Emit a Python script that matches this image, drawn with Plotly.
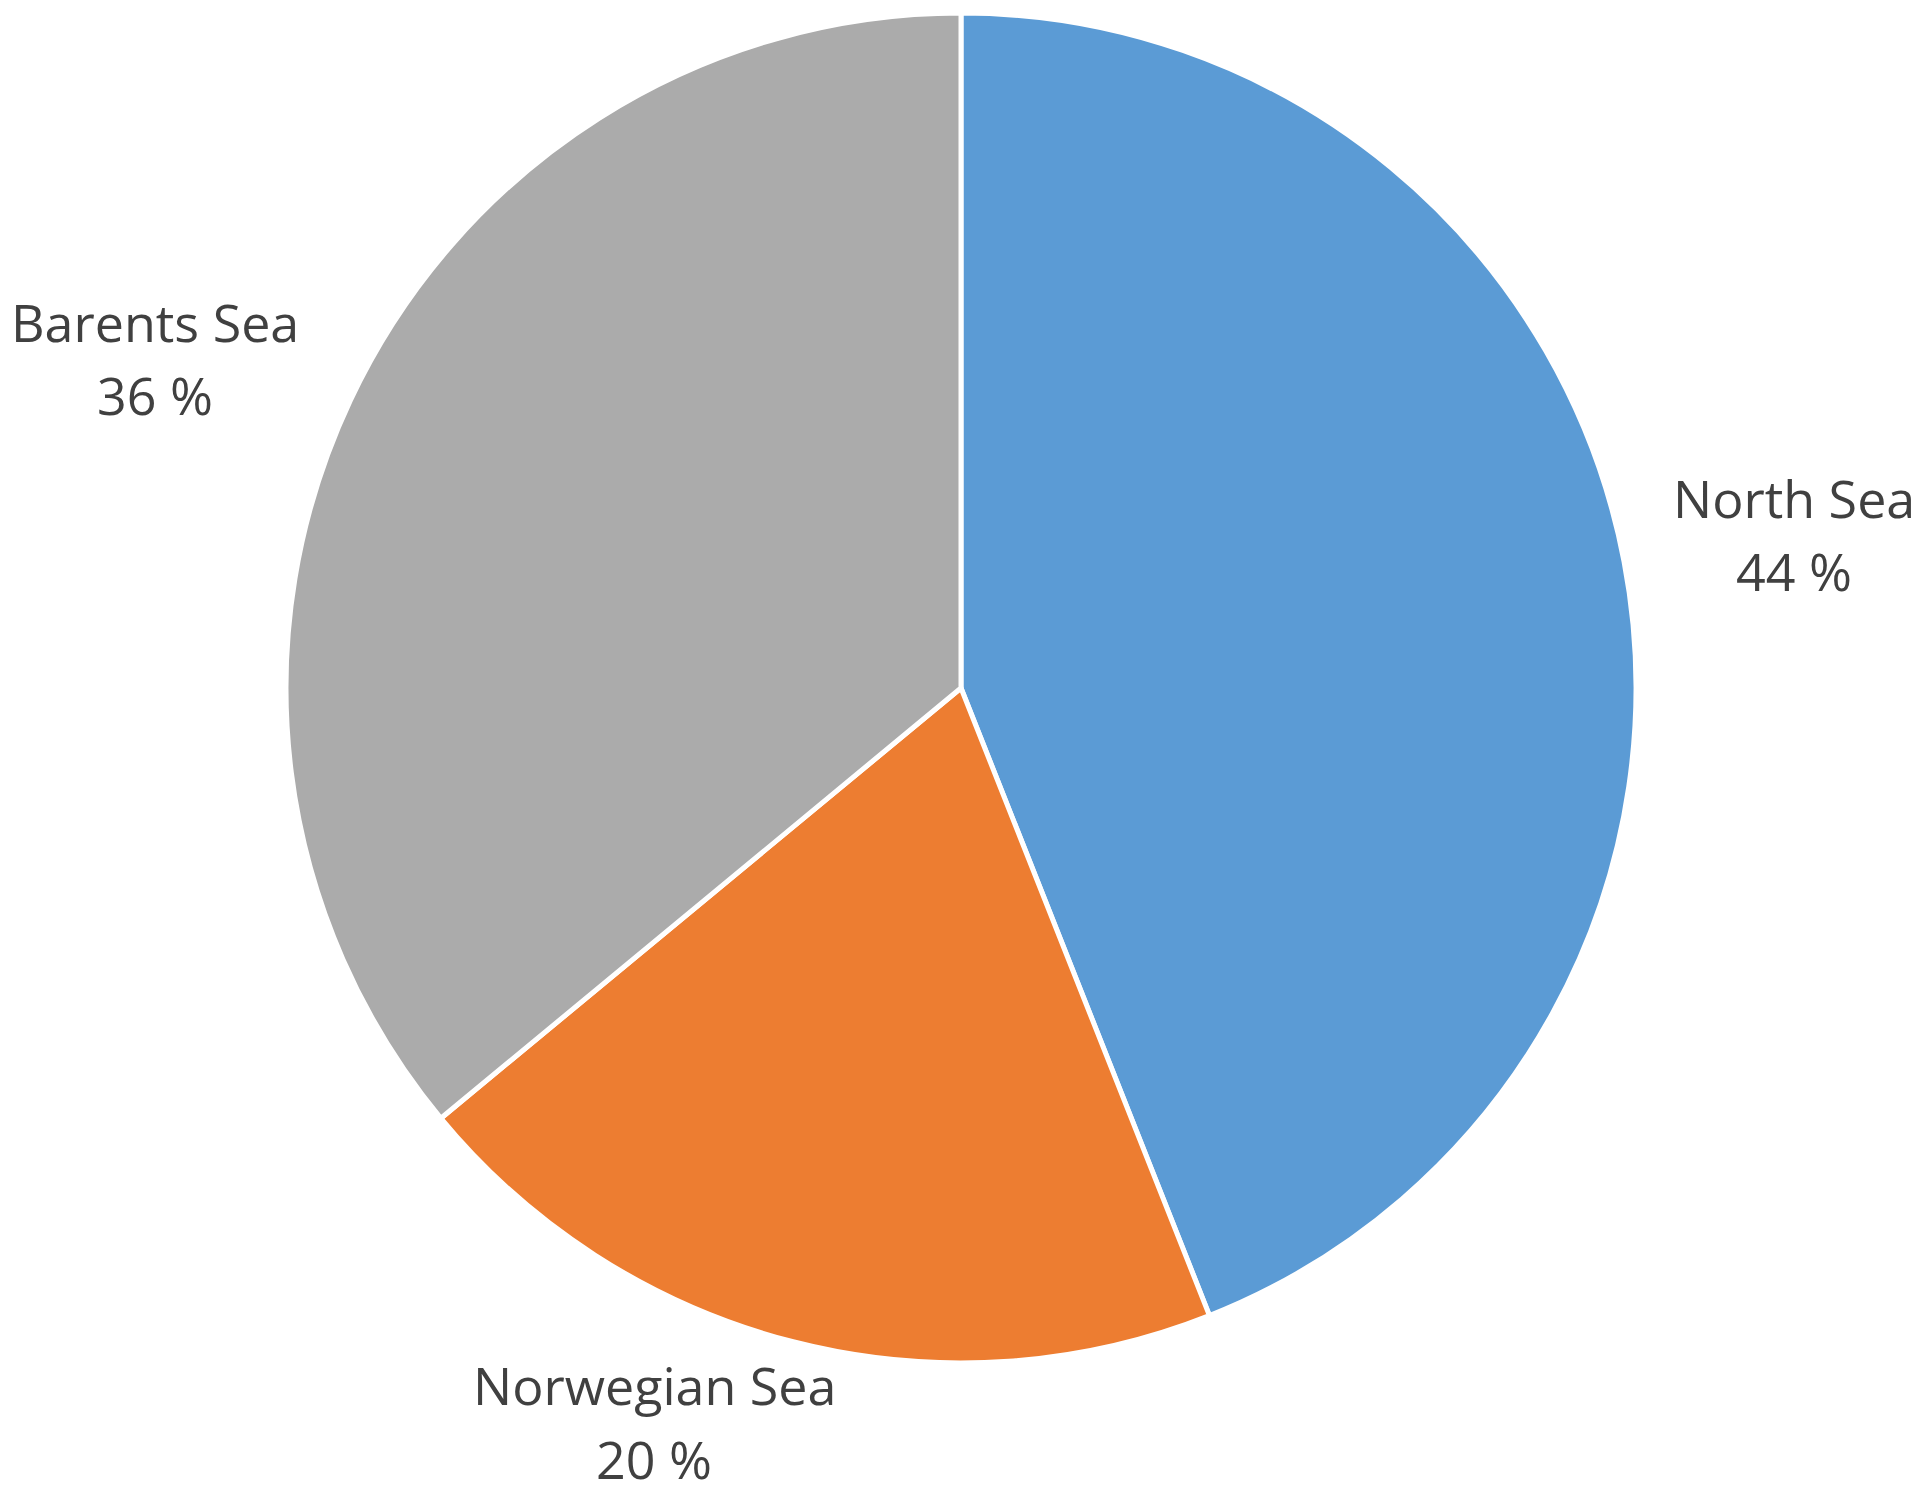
import plotly.graph_objects as go

labels = ["North Sea", "Norwegian Sea", "Barents Sea"]
values = [44, 20, 36]
colors = ["#5B9BD5", "#ED7D31", "#ABABAB"]

W, H = 1920, 1497
cx, cy, r = 953, 680, 675

fig = go.Figure(go.Pie(
    labels=labels, values=values, sort=False, direction="clockwise", rotation=0,
    marker=dict(colors=colors, line=dict(color="white", width=5)),
    textinfo="none", hoverinfo="label+percent", showlegend=False,
    domain=dict(x=[(cx - r) / W, (cx + r) / W], y=[1 - (cy + r) / H, 1 - (cy - r) / H]),
))

# label centres in pixels: (x, y of name line, y of percent line)
label_pos = {"North Sea": (1786, 489, 562), "Norwegian Sea": (646, 1376, 1450), "Barents Sea": (147, 313, 387)}
font = dict(family="Open Sans", size=52, color="#404040")
for lab, v in zip(labels, values):
    x, y1, y2 = label_pos[lab]
    for txt, y in ((lab, y1), (f"{v} %", y2)):
        fig.add_annotation(x=x / W, y=1 - y / H, xref="paper", yref="paper",
                           text=txt, showarrow=False, font=font,
                           xanchor="center", yanchor="middle", align="center")

fig.update_layout(width=W, height=H, margin=dict(l=0, r=0, t=0, b=0),
                  paper_bgcolor="white", plot_bgcolor="white")
fig.write_html("out.html")
